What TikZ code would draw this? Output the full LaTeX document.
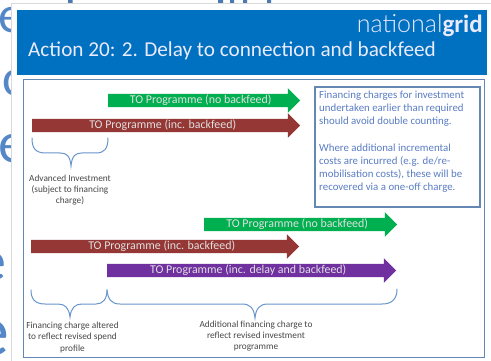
\documentclass[tikz,border=0pt]{standalone}
\usepackage{fontspec}
\setmainfont{Carlito}
\newfontfamily\logofont{Lato Light}
\usetikzlibrary{shapes.arrows}
\definecolor{hdr}{RGB}{0,112,192}
\definecolor{frm}{RGB}{100,135,180}
\definecolor{ghost}{RGB}{85,135,200}
\definecolor{brc}{RGB}{105,150,205}
\definecolor{boxt}{RGB}{90,125,195}
\definecolor{agreen}{RGB}{0,176,80}
\definecolor{ared}{RGB}{149,55,53}
\definecolor{apurple}{RGB}{112,48,160}
\tikzset{
  bar/.style={single arrow,anchor=tail,minimum width=24.5pt,single arrow head extend=4.8pt,
    inner sep=0pt,text=white!88!black,font=\fontsize{11.9}{12}\selectfont,outer sep=0pt},
  note/.style={align=center,text=black!72,font=\fontsize{9.3}{11.3}\selectfont,inner sep=0pt},
  bracepath/.style={draw=brc,line width=1pt,line cap=round},
  ghostl/.style={text=ghost,font=\fontsize{58}{58}\selectfont,inner sep=0pt}
}
\begin{document}
\begin{tikzpicture}[x=1pt,y=-1pt]
\useasboundingbox (0,0) rectangle (491,361);
\fill[white] (0,0) rectangle (491,361);
\begin{scope}
\clip (0,0) rectangle (11,361);
\node[ghostl,anchor=base west,font=\fontsize{52}{52}\selectfont] (g1) at (-2,33) {e};
\node[ghostl,anchor=base west,font=\fontsize{52}{52}\selectfont] (g2) at (-24.5,96) {nc};
\node[ghostl,anchor=base west] (g3) at (-2,163) {e};
\node[ghostl,anchor=base east] (g4) at (7,280) {e};
\node[ghostl,anchor=base east,font=\fontsize{72}{72}\selectfont] (g5) at (10,355) {e};
\end{scope}
\fill[ghost!90!black] (68,0) rectangle (72.7,3) (218,0) rectangle (223,3) (230,0) rectangle (234,3) (243,0) rectangle (247,3) (267,0) rectangle (271,3);
\draw[black!15,line width=.8pt] (491,3.6) -- (11.5,3.6) -- (11.5,361);
\node[fill=hdr,minimum width=470pt,minimum height=65pt,inner sep=0pt,anchor=north west] (head) at (17,10) {};
\node[anchor=base west,inner sep=0pt,text=white!92!blue,font=\fontsize{21.2}{24}\selectfont] (title) at (28,57) {Action 20: 2. Delay to connection and backfeed};
\node[anchor=base east,inner sep=0pt,text=white!92!blue,font=\fontsize{25}{26}\selectfont] (logo) at (483,33) {{\logofont national}{\bfseries grid}};
\node[draw=frm,line width=1.4pt,minimum width=461pt,minimum height=278pt,inner sep=0pt,anchor=north west] (frame) at (23,79) {};
\node[draw=frm,line width=1.9pt,minimum width=165pt,minimum height=120pt,inner sep=0pt,anchor=north west] (tbox) at (314,86) {};
\node[anchor=north west,align=left,inner sep=0pt,text=boxt,font=\fontsize{10.85}{13.25}\selectfont] (ttext) at (319,90.5) {Financing charges for investment\\undertaken earlier than required\\should avoid double counting.\\[13.25pt]Where additional incremental\\costs are incurred (e.g. de/re-\\mobilisation costs), these will be\\recovered via a one-off charge.};
\node[bar,fill=agreen,minimum height=192pt] (a1) at (108,100.5) {TO Programme (no backfeed)};
\node[bar,fill=ared,minimum height=268pt] (a2) at (32,125.5) {TO Programme (inc. backfeed)};
\node[bar,fill=agreen,minimum height=193pt] (a3) at (204,224.5) {TO Programme (no backfeed)};
\node[bar,fill=ared,minimum height=268pt] (a4) at (31,246.5) {TO Programme (inc. backfeed)};
\node[bar,fill=apurple,minimum height=289pt] (a5) at (107,270.5) {TO Programme (inc. delay and backfeed)};
\draw[bracepath] (32,138) .. controls (32,149) and (36,153) .. (46,153) -- (60,153) .. controls (67,153) and (70,156) .. (71,166) .. controls (72,156) and (75,153) .. (82,153) -- (96,153) .. controls (104,153) and (108,149) .. (108,138);
\draw[bracepath] (31,290) .. controls (31,299) and (35,304) .. (45,304) -- (58,304) .. controls (65,304) and (69,308) .. (70,317) .. controls (71,308) and (75,304) .. (82,304) -- (96,304) .. controls (103,304) and (107,299) .. (107,290);
\draw[bracepath] (107,290) .. controls (108,299) and (111,304) .. (120,304) -- (242,304) .. controls (250,304) and (254,308) .. (255,318) .. controls (256,308) and (260,304) .. (268,304) -- (382,304) .. controls (392,304) and (397,299) .. (397,289);
\node[note] (n1) at (70,190) {Advanced Investment\\(subject to financing\\charge)};
\node[note] (n2) at (72.5,337.5) {Financing charge altered\\to reflect revised spend\\profile};
\node[note] (n3) at (256,336) {Additional financing charge to\\reflect revised investment\\programme};
\end{tikzpicture}
\end{document}
